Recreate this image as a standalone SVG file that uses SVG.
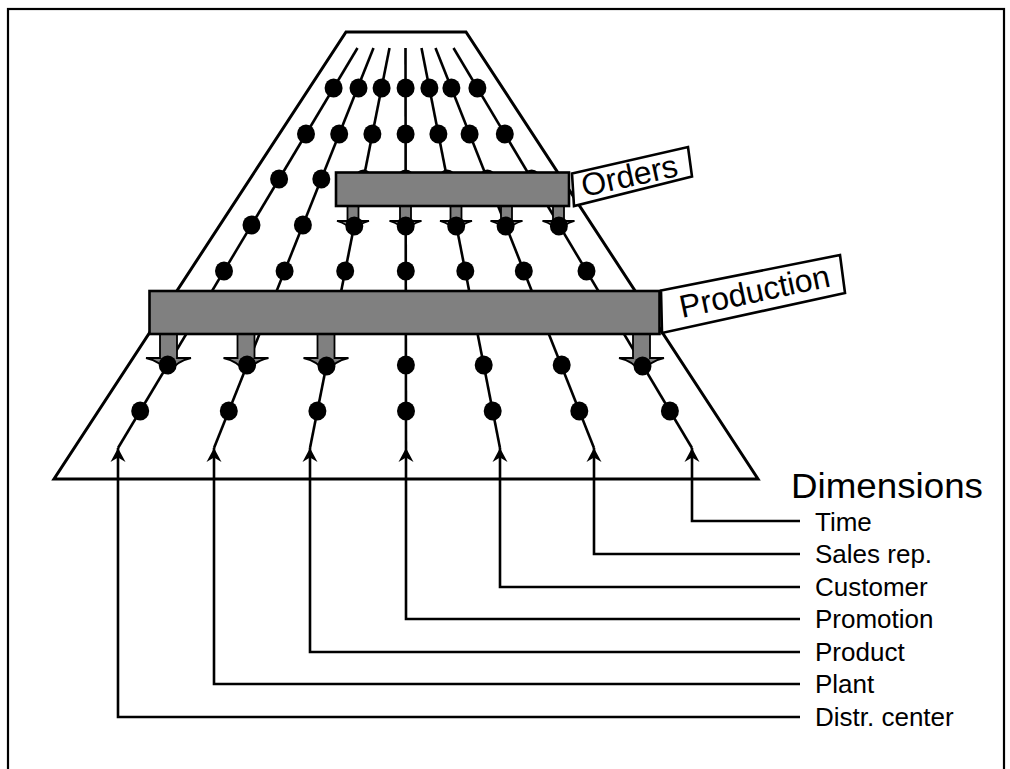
<svg xmlns="http://www.w3.org/2000/svg" width="1010" height="769" viewBox="0 0 1010 769">
<style>
.ln{stroke:#000;stroke-width:2.6;fill:none}
.dot{fill:#000}
.bar{fill:#808080;stroke:#000;stroke-width:2.6}
.arr{fill:#808080;stroke:#000;stroke-width:1.8;stroke-linejoin:miter}
.tag{fill:#fff;stroke:#000;stroke-width:2.6}
.txt{font-family:"Liberation Sans",Arial,sans-serif;fill:#000}
.lbl{font-size:26px}
.con{stroke:#000;stroke-width:2.6;fill:none;marker-start:url(#up)}
</style>
<defs>
<marker id="up" markerUnits="userSpaceOnUse" markerWidth="18" markerHeight="18" viewBox="-16 -9 18 18" refX="0" refY="0" orient="auto-start-reverse">
<path d="M0,0 L-14,-7.5 L-9.5,0 L-14,7.5 Z" fill="#000"/>
</marker>
</defs>
<rect x="0" y="0" width="1010" height="769" fill="#fff"/>
<g id="frame"><rect x="8" y="9" width="996" height="800" fill="none" stroke="#000" stroke-width="2.2"/></g>
<g id="cube"><polygon points="346,32 466,32 758,479 54,479" fill="none" stroke="#000" stroke-width="3" stroke-linejoin="miter"/></g>
<g id="dimension-lines">
<line class="ln" x1="357.5" y1="48" x2="118" y2="448"/>
<line class="ln" x1="373.5" y1="48" x2="214" y2="448"/>
<line class="ln" x1="389.5" y1="48" x2="310" y2="448"/>
<line class="ln" x1="405.5" y1="48" x2="406" y2="448"/>
<line class="ln" x1="421.5" y1="48" x2="500" y2="448"/>
<line class="ln" x1="435.5" y1="48" x2="594" y2="448"/>
<line class="ln" x1="453.5" y1="48" x2="692" y2="448"/>
</g>
<g id="orders-arrows">
<path class="arr" d="M347.5,205 V221 H337 Q348,224 353,232 Q358,224 369,221 H358.5 V205 Z"/>
<path class="arr" d="M400,205 V221 H389.5 Q400.5,224 405.5,232 Q410.5,224 421.5,221 H411 V205 Z"/>
<path class="arr" d="M450.5,205 V221 H440 Q451,224 456,232 Q461,224 472,221 H461.5 V205 Z"/>
<path class="arr" d="M501,205 V221 H490.5 Q501.5,224 506.5,232 Q511.5,224 522.5,221 H512 V205 Z"/>
<path class="arr" d="M553,205 V221 H542.5 Q553.5,224 558.5,232 Q563.5,224 574.5,221 H564 V205 Z"/>
</g>
<g id="production-arrows">
<path class="arr" d="M160,333 V358 H146 Q160.5,361 168.5,373 Q176.5,361 191,358 H177 V333 Z"/>
<path class="arr" d="M237.5,333 V358 H223.5 Q238,361 246,373 Q254,361 268.5,358 H254.5 V333 Z"/>
<path class="arr" d="M317.5,333 V358 H303.5 Q318,361 326,373 Q334,361 348.5,358 H334.5 V333 Z"/>
<path class="arr" d="M633,333 V358 H619 Q633.5,361 641.5,373 Q649.5,361 664,358 H650 V333 Z"/>
</g>
<g id="dots">
<ellipse class="dot" cx="333.6" cy="88" rx="9" ry="9.5"/>
<ellipse class="dot" cx="306" cy="134" rx="9" ry="9.5"/>
<ellipse class="dot" cx="279.1" cy="179" rx="9" ry="9.5"/>
<ellipse class="dot" cx="251.5" cy="225" rx="9" ry="9.5"/>
<ellipse class="dot" cx="224" cy="271" rx="9" ry="9.5"/>
<ellipse class="dot" cx="196.4" cy="317" rx="9" ry="9.5"/>
<ellipse class="dot" cx="167.7" cy="365" rx="9" ry="9.5"/>
<ellipse class="dot" cx="140.2" cy="411" rx="9" ry="9.5"/>
<ellipse class="dot" cx="358.5" cy="88" rx="9" ry="9.5"/>
<ellipse class="dot" cx="339.2" cy="134" rx="9" ry="9.5"/>
<ellipse class="dot" cx="321.3" cy="179" rx="9" ry="9.5"/>
<ellipse class="dot" cx="302.9" cy="225" rx="9" ry="9.5"/>
<ellipse class="dot" cx="284.6" cy="271" rx="9" ry="9.5"/>
<ellipse class="dot" cx="266.2" cy="317" rx="9" ry="9.5"/>
<ellipse class="dot" cx="247.1" cy="365" rx="9" ry="9.5"/>
<ellipse class="dot" cx="228.8" cy="411" rx="9" ry="9.5"/>
<ellipse class="dot" cx="381.6" cy="88" rx="9" ry="9.5"/>
<ellipse class="dot" cx="372.4" cy="134" rx="9" ry="9.5"/>
<ellipse class="dot" cx="363.5" cy="179" rx="9" ry="9.5"/>
<ellipse class="dot" cx="354.3" cy="226" rx="9" ry="9.5"/>
<ellipse class="dot" cx="345.2" cy="271" rx="9" ry="9.5"/>
<ellipse class="dot" cx="336" cy="317" rx="9" ry="9.5"/>
<ellipse class="dot" cx="326.5" cy="366" rx="9" ry="9.5"/>
<ellipse class="dot" cx="317.4" cy="411" rx="9" ry="9.5"/>
<ellipse class="dot" cx="405.6" cy="88" rx="9" ry="9.5"/>
<ellipse class="dot" cx="405.6" cy="134" rx="9" ry="9.5"/>
<ellipse class="dot" cx="405.7" cy="179" rx="9" ry="9.5"/>
<ellipse class="dot" cx="405.7" cy="226" rx="9" ry="9.5"/>
<ellipse class="dot" cx="405.8" cy="271" rx="9" ry="9.5"/>
<ellipse class="dot" cx="405.8" cy="317" rx="9" ry="9.5"/>
<ellipse class="dot" cx="405.9" cy="365" rx="9" ry="9.5"/>
<ellipse class="dot" cx="406" cy="411" rx="9" ry="9.5"/>
<ellipse class="dot" cx="429.4" cy="88" rx="9" ry="9.5"/>
<ellipse class="dot" cx="438.4" cy="134" rx="9" ry="9.5"/>
<ellipse class="dot" cx="447.2" cy="179" rx="9" ry="9.5"/>
<ellipse class="dot" cx="456.2" cy="226" rx="9" ry="9.5"/>
<ellipse class="dot" cx="465.3" cy="271" rx="9" ry="9.5"/>
<ellipse class="dot" cx="474.3" cy="317" rx="9" ry="9.5"/>
<ellipse class="dot" cx="483.7" cy="365" rx="9" ry="9.5"/>
<ellipse class="dot" cx="492.7" cy="411" rx="9" ry="9.5"/>
<ellipse class="dot" cx="451.4" cy="88" rx="9" ry="9.5"/>
<ellipse class="dot" cx="469.6" cy="134" rx="9" ry="9.5"/>
<ellipse class="dot" cx="487.4" cy="179" rx="9" ry="9.5"/>
<ellipse class="dot" cx="505.6" cy="226" rx="9" ry="9.5"/>
<ellipse class="dot" cx="523.8" cy="271" rx="9" ry="9.5"/>
<ellipse class="dot" cx="542.1" cy="317" rx="9" ry="9.5"/>
<ellipse class="dot" cx="561.7" cy="365" rx="9" ry="9.5"/>
<ellipse class="dot" cx="579.3" cy="411" rx="9" ry="9.5"/>
<ellipse class="dot" cx="477.4" cy="88" rx="9" ry="9.5"/>
<ellipse class="dot" cx="504.8" cy="134" rx="9" ry="9.5"/>
<ellipse class="dot" cx="531.6" cy="179" rx="9" ry="9.5"/>
<ellipse class="dot" cx="558.9" cy="226" rx="9" ry="9.5"/>
<ellipse class="dot" cx="586.5" cy="271" rx="9" ry="9.5"/>
<ellipse class="dot" cx="613.9" cy="317" rx="9" ry="9.5"/>
<ellipse class="dot" cx="642.5" cy="366" rx="9" ry="9.5"/>
<ellipse class="dot" cx="669.9" cy="411" rx="9" ry="9.5"/>
</g>
<g id="orders">
<rect class="bar" x="336" y="172.5" width="233" height="33.5"/>
<polygon class="tag" points="572,173.5 688,147 692,176.5 574,206"/>
<text class="txt" font-size="32" transform="translate(584,197) rotate(-12.5)">Orders</text>
</g>
<g id="production">
<rect class="bar" x="149.5" y="291" width="510" height="43"/>
<polygon class="tag" points="661,290.5 840,255 845,293 662,333"/>
<text class="txt" font-size="32" transform="translate(682,318) rotate(-12)">Production</text>
</g>
<g id="connectors">
<path class="con" d="M118,448 V717 H800"/>
<path class="con" d="M214,448 V684 H800"/>
<path class="con" d="M310,448 V652 H800"/>
<path class="con" d="M406,448 V619 H800"/>
<path class="con" d="M500,448 V587 H800"/>
<path class="con" d="M594,448 V554 H800"/>
<path class="con" d="M692,448 V521 H800"/>
</g>
<g id="dimensions-title"><text class="txt" x="791" y="498" font-size="35" textLength="192" lengthAdjust="spacingAndGlyphs">Dimensions</text></g>
<g id="dim-time"><text class="txt lbl" x="815" y="531">Time</text></g>
<g id="dim-salesrep"><text class="txt lbl" x="815" y="563">Sales rep.</text></g>
<g id="dim-customer"><text class="txt lbl" x="815" y="596">Customer</text></g>
<g id="dim-promotion"><text class="txt lbl" x="815" y="628">Promotion</text></g>
<g id="dim-product"><text class="txt lbl" x="815" y="661">Product</text></g>
<g id="dim-plant"><text class="txt lbl" x="815" y="693">Plant</text></g>
<g id="dim-distr"><text class="txt lbl" x="815" y="726">Distr. center</text></g>
</svg>
